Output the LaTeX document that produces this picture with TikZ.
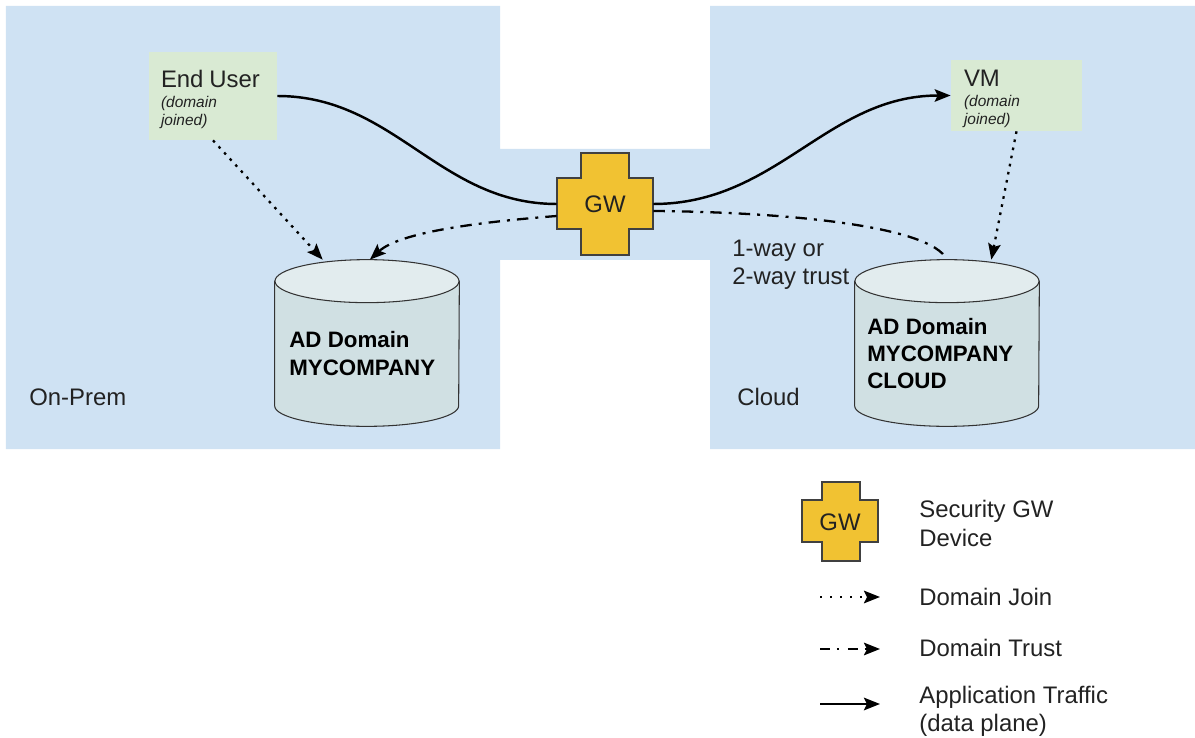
\documentclass[tikz,border=0pt]{standalone}
\usepackage{fontspec}
\setmainfont{Liberation Sans}
\usetikzlibrary{calc,shapes,positioning}
\usetikzlibrary{arrows.meta}
\tikzset{>={Stealth[inset=0.6mm,width=2.5mm,length=3.2mm]}}
\definecolor{zoneblue}{HTML}{CFE2F3}
\definecolor{hostgreen}{HTML}{D9EAD3}
\definecolor{gwyellow}{HTML}{F1C232}
\definecolor{dbbody}{HTML}{D0E0E3}
\definecolor{dbtop}{HTML}{E2ECEE}
\definecolor{inkgrey}{HTML}{222222}
\newcommand{\bigtext}{\fontsize{13.6}{16}\selectfont}
\newcommand{\smalltext}{\fontsize{8.8}{10.2}\selectfont\itshape}

\begin{document}
\begin{tikzpicture}[yscale=-1]
      \tikzstyle{hostnode} = [fill=hostgreen, rectangle, align=left, inner xsep=0.24cm, inner ysep=0pt, text=inkgrey]
      \tikzstyle{gwshape} = [fill=gwyellow, draw=black!75, line width=0.6pt]
      \tikzstyle{gwnode} = [rectangle, inner sep=0pt, font=\bigtext, text=inkgrey]
      \tikzstyle{dbnode} = [rectangle, minimum width=3.68cm, minimum height=3.32cm, inner sep=0pt]
      \tikzstyle{dbside} = [fill=dbbody, draw=black!80, line width=0.6pt]
      \tikzstyle{dbcap} = [fill=dbtop, draw=black!80, line width=0.6pt]
      \tikzstyle{dblabel} = [anchor=west, align=left, inner sep=0pt, font=\fontsize{12.7}{15.4}\selectfont\bfseries, text=black]
      \tikzstyle{plainlabel} = [anchor=west, align=left, inner sep=0pt, font=\bigtext, text=inkgrey]
      \tikzstyle{appline} = [->, line width=1.4pt, black]
      \tikzstyle{joinline} = [->, line width=1.3pt, black, dash pattern=on 1.5pt off 3.2pt]
      \tikzstyle{trustline} = [line width=1.3pt, black, dash pattern=on 6.5pt off 4pt on 1.7pt off 4pt]

      % zones
      \fill[zoneblue] (0.12,0.12) -- (10,0.12) -- (10,2.98) -- (14.2,2.98) -- (14.2,0.12) -- (23.9,0.12) -- (23.9,8.98) -- (14.2,8.98) -- (14.2,5.2) -- (10,5.2) -- (10,8.98) -- (0.12,8.98) -- cycle;

      \node[hostnode, minimum width=2.56cm, minimum height=1.76cm, text width=2.08cm] (enduser) at (4.26,1.92) {\rule{0pt}{13.7pt}{\bigtext End User}\\[1.1pt]{\smalltext (domain\\[-1.7pt]joined)}};
      \node[hostnode, minimum width=2.58cm, minimum height=1.42cm, text width=2.1cm, inner xsep=0.26cm] (vm) at (20.33,1.91) {\rule{0pt}{13.7pt}{\bigtext VM}\\[1.1pt]{\smalltext (domain\\[-1.7pt]joined)}};

      \node[dbnode] (adleft) at (7.34,6.86) {};
      \node[dbnode] (adright) at (18.94,6.86) {};
      \foreach \db in {adleft,adright} {
        \draw[dbside] ($(\db.north west)+(0,0.43)$) -- ($(\db.south west)+(0,-0.41)$) arc[start angle=180, end angle=0, x radius=1.84, y radius=0.41] -- ($(\db.north east)+(0,0.43)$) -- cycle;
        \draw[dbcap] ($(\db.north)+(0,0.43)$) ellipse [x radius=1.84, y radius=0.43];
      }
      \node[dblabel] (adlefttext) at (5.78,7.07) {AD Domain\\MYCOMPANY};
      \node[dblabel] (adrighttext) at (17.34,7.07) {AD Domain\\MYCOMPANY\\CLOUD};

      \node[plainlabel] (onprem) at (0.58,7.94) {On-Prem};
      \node[plainlabel] (cloud) at (14.74,7.94) {Cloud};
      \node[plainlabel] (trustnote) at (14.64,5.29) {1-way or\\2-way trust};

      \draw[gwshape] (11.62,3.06) -- (12.58,3.06) -- (12.58,3.56) -- (13.06,3.56) -- (13.06,4.58) -- (12.58,4.58) -- (12.58,5.1) -- (11.62,5.1) -- (11.62,4.58) -- (11.14,4.58) -- (11.14,3.56) -- (11.62,3.56) -- cycle;
      \node[gwnode, minimum width=1.92cm, minimum height=1.02cm] (gw) at (12.1,4.08) {GW};

      \draw[-, line width=1.4pt] (enduser.east) to[out=0, in=180] (gw.west);
      \draw[appline] (gw.east) to[out=0, in=180] (vm.west);
      \draw[joinline] (enduser.south) to (adleft.118);
      \draw[joinline] (vm.south) to (adright.62);
      \draw[trustline, ->] ($(gw.west)+(0,0.24)$) .. controls (9.6,4.44) and (8,4.64) .. (adleft.88);
      \draw[trustline] ($(gw.east)+(0,0.14)$) .. controls (15.6,4.24) and (18.6,4.5) .. (adright.90);

      % legend
      \draw[gwshape] (16.44,9.64) -- (17.2,9.64) -- (17.2,10) -- (17.56,10) -- (17.56,10.84) -- (17.2,10.84) -- (17.2,11.22) -- (16.44,11.22) -- (16.44,10.84) -- (16.04,10.84) -- (16.04,10) -- (16.44,10) -- cycle;
      \node[gwnode] (gwkey) at (16.8,10.44) {GW};
      \node[plainlabel] (gwkeytext) at (18.38,10.47) {Security GW\\Device};

      \coordinate (joinstart) at (16.4,11.94);
      \coordinate (joinend) at (17.6,11.94);
      \coordinate (trustbegin) at (16.4,12.98);
      \coordinate (trustend) at (17.6,12.98);
      \coordinate (appstart) at (16.4,14.08);
      \coordinate (append) at (17.6,14.08);
      \draw[joinline, dash pattern=on 1.3pt off 4.4pt] (joinstart) to (joinend);
      \draw[trustline, ->, dash pattern=on 5.6pt off 4pt on 1.2pt off 5pt] (trustbegin) to (trustend);
      \draw[appline] (appstart) to (append);

      \node[plainlabel] (joinkey) at (18.38,11.94) {Domain Join};
      \node[plainlabel] (trustkey) at (18.38,12.96) {Domain Trust};
      \node[plainlabel] (appkey) at (18.38,14.22) {Application Traffic\\(data plane)};

      \useasboundingbox (0,0) rectangle (23.9,14.76);
    \end{tikzpicture}
\end{document}
